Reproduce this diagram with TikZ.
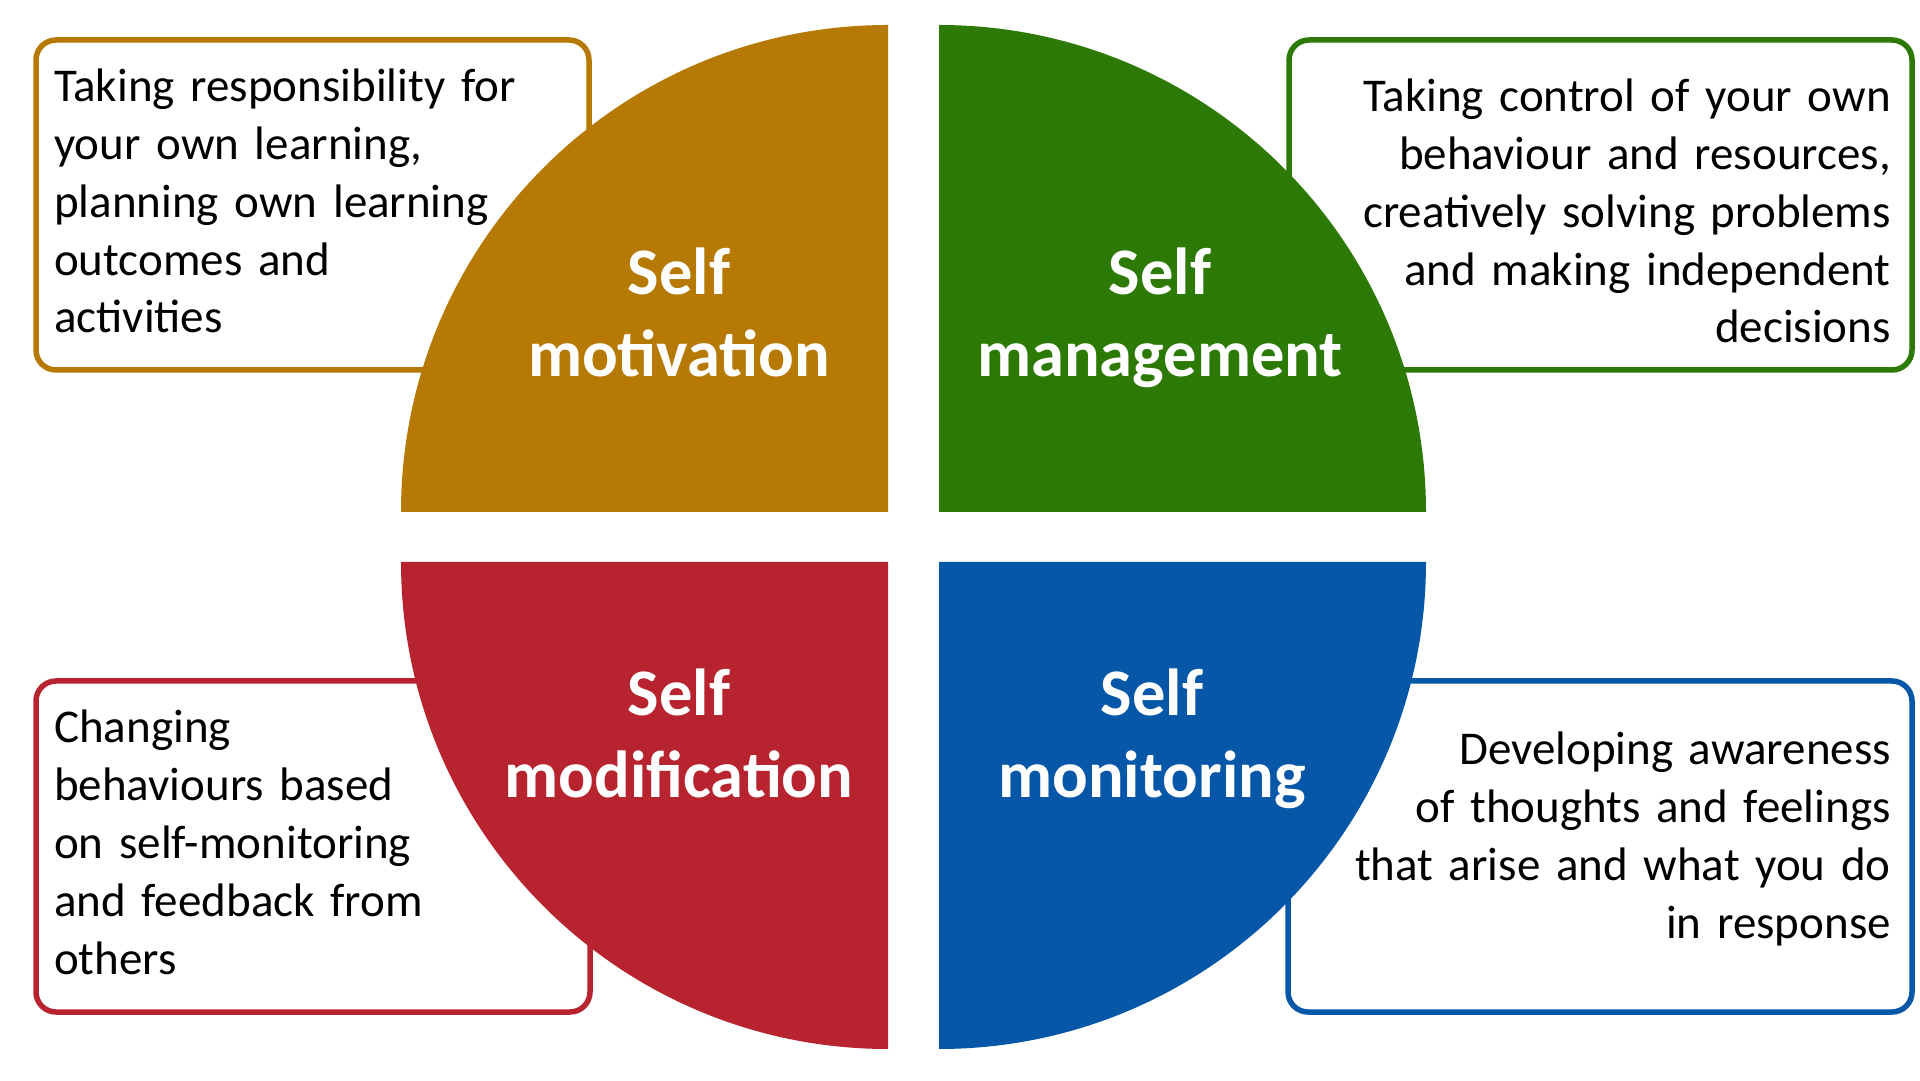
\documentclass[tikz,border=0pt]{standalone}
\usepackage{fontspec}
\setmainfont{Carlito}
\definecolor{cgold}{HTML}{B57904}
\definecolor{cgreen}{HTML}{2C7A05}
\definecolor{cred}{HTML}{B72430}
\definecolor{cblue}{HTML}{0757A8}
\begin{document}
\begin{tikzpicture}[x=1pt,y=1pt,
  infobox/.style={line width=5.5pt, rounded corners=20pt, fill=white},
  desc/.style={inner sep=0pt, text width=600pt, font=\fontsize{47}{57.8}\selectfont},
  quadlabel/.style={inner sep=0pt, text width=480pt, align=center, text=white, font=\bfseries\fontsize{66.5}{81.5}\selectfont}]
\fill[white] (0,0) rectangle (1920,1080);
\useasboundingbox (0,0) rectangle (1920,1080);
% boxes
\draw[infobox, draw=cgold]  (36,1040) rectangle (589,710);
\draw[infobox, draw=cgreen] (1289,1040) rectangle (1912,710);
\draw[infobox, draw=cred]   (36,399) rectangle (590,68);
\draw[infobox, draw=cblue]  (1288,399) rectangle (1912,68);
% quadrants
\fill[cgold]  (888,568) -- (401,568) arc[start angle=180, end angle=90, radius=487pt] -- cycle;
\fill[cgreen] (939,568) -- (939,1055) arc[start angle=90, end angle=0, radius=487pt] -- cycle;
\fill[cred]   (888,518) -- (401,518) arc[start angle=180, end angle=270, radius=487pt] -- cycle;
\fill[cblue]  (939,518) -- (1426,518) arc[start angle=0, end angle=-90, radius=487pt] -- cycle;
% labels
\node[quadlabel, anchor=base] (lmot) at (679,785) {Self\\motivation};
\node[quadlabel, anchor=base] (lman) at (1160,785) {Self\\management};
\node[quadlabel, anchor=base] (lmod) at (679,364.4) {Self\\modification};
\node[quadlabel, anchor=base] (lmon) at (1152,364.4) {Self\\monitoring};
% descriptions
\node[desc, align=left, anchor=base west] (dmot) at (54,978.3)
  {Taking responsibility for\\your own learning,\\planning own learning\\outcomes and\\activities};
\node[desc, align=right, anchor=base east] (dman) at (1891,968.3)
  {Taking control of your own\\behaviour and resources,\\creatively solving problems\\and making independent\\decisions};
\node[desc, align=left, anchor=base west] (dmod) at (54,337)
  {Changing\\behaviours based\\on self-monitoring\\and feedback from\\others};
\node[desc, align=right, anchor=base east] (dmon) at (1891,315)
  {Developing awareness\\of thoughts and feelings\\that arise and what you do\\in response};
\end{tikzpicture}
\end{document}
